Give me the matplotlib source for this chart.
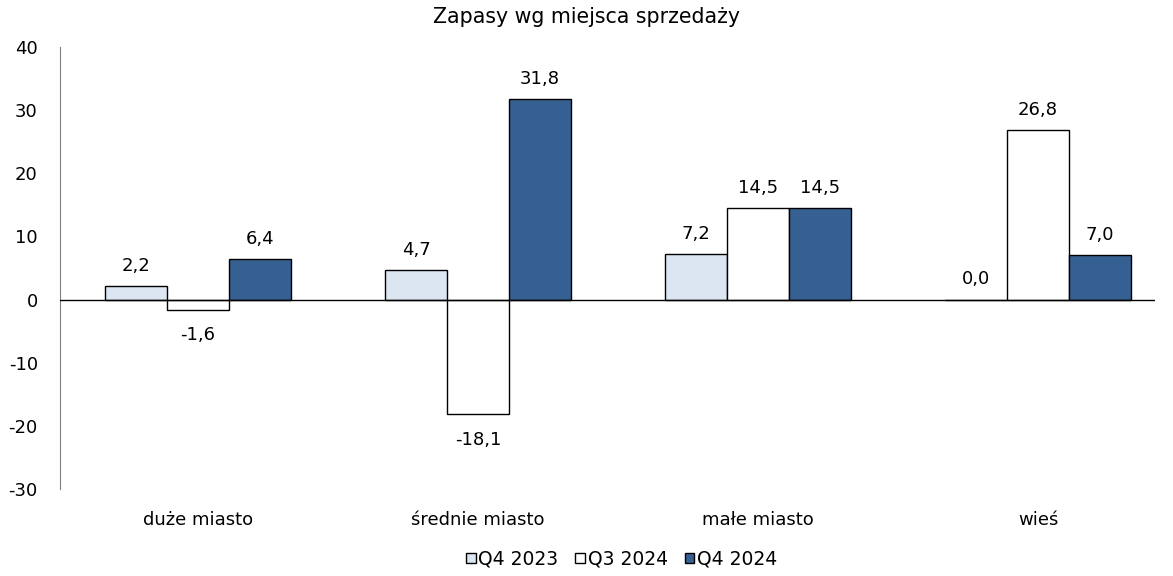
import matplotlib.pyplot as plt
import numpy as np
from matplotlib.patches import Patch

categories = ['duże miasto', 'średnie miasto', 'małe miasto', 'wieś']
series_names = ['Q4 2023', 'Q3 2024', 'Q4 2024']
q4_2023 = [2.2, 4.7, 7.2, 0.0]
q3_2024 = [-1.6, -18.1, 14.5, 26.8]
q4_2024 = [6.4, 31.8, 14.5, 7.0]
colors = ['#DCE6F2', '#FFFFFF', '#376092']


def fmt(v):
    return f'{v:.1f}'.replace('.', ',')


def main():
    plt.rcParams['font.family'] = ['DejaVu Sans']
    plt.rcParams['axes.unicode_minus'] = False
    fig = plt.figure(figsize=(11.73, 5.76), dpi=100)
    # axis spans px 60..1155 horizontally, 47..489 vertically
    ax = fig.add_axes([60 / 1173, 1 - 489 / 576, 1095 / 1173, 442 / 576])

    x = np.arange(len(categories))
    width = 0.2214
    data = [q4_2023, q3_2024, q4_2024]
    for i, (vals, col) in enumerate(zip(data, colors)):
        pos = x + (i - 1) * width
        ax.bar(pos, vals, width, color=col, edgecolor='black', linewidth=1.0, zorder=2)
        for p, v in zip(pos, vals):
            if v >= 0:
                ax.annotate(fmt(v), (p, v), xytext=(0, 8), textcoords='offset points',
                            ha='center', va='bottom', fontsize=13)
            else:
                ax.annotate(fmt(v), (p, v), xytext=(0, -12), textcoords='offset points',
                            ha='center', va='top', fontsize=13)

    ax.axhline(0, color='black', linewidth=1.0, zorder=3)
    ax.set_xlim(-0.493, 3.418)
    ax.set_ylim(-30, 40)
    ax.set_yticks(range(-30, 41, 10))
    ax.set_xticks(x)
    ax.set_xticklabels(categories)
    ax.tick_params(axis='both', length=0, labelsize=13)
    ax.tick_params(axis='x', pad=16)
    ax.tick_params(axis='y', pad=16)
    for s in ['top', 'right', 'bottom']:
        ax.spines[s].set_visible(False)
    ax.spines['left'].set_color('#808080')

    # title is centred on the figure, not the axes
    fig.text(0.5, 1 - 17 / 576, 'Zapasy wg miejsca sprzedaży', fontsize=14.8,
             ha='center', va='center')

    handles = [Patch(facecolor=c, edgecolor='black', label=n) for c, n in zip(colors, series_names)]
    fig.legend(handles=handles, loc='center', bbox_to_anchor=(0.530, 0.0295), ncol=3,
               frameon=False, fontsize=13.5, handlelength=0.5, handleheight=0.5,
               handletextpad=0.15, columnspacing=0.9)

    fig.savefig('out.png', dpi=100)


if __name__ == '__main__':
    main()
